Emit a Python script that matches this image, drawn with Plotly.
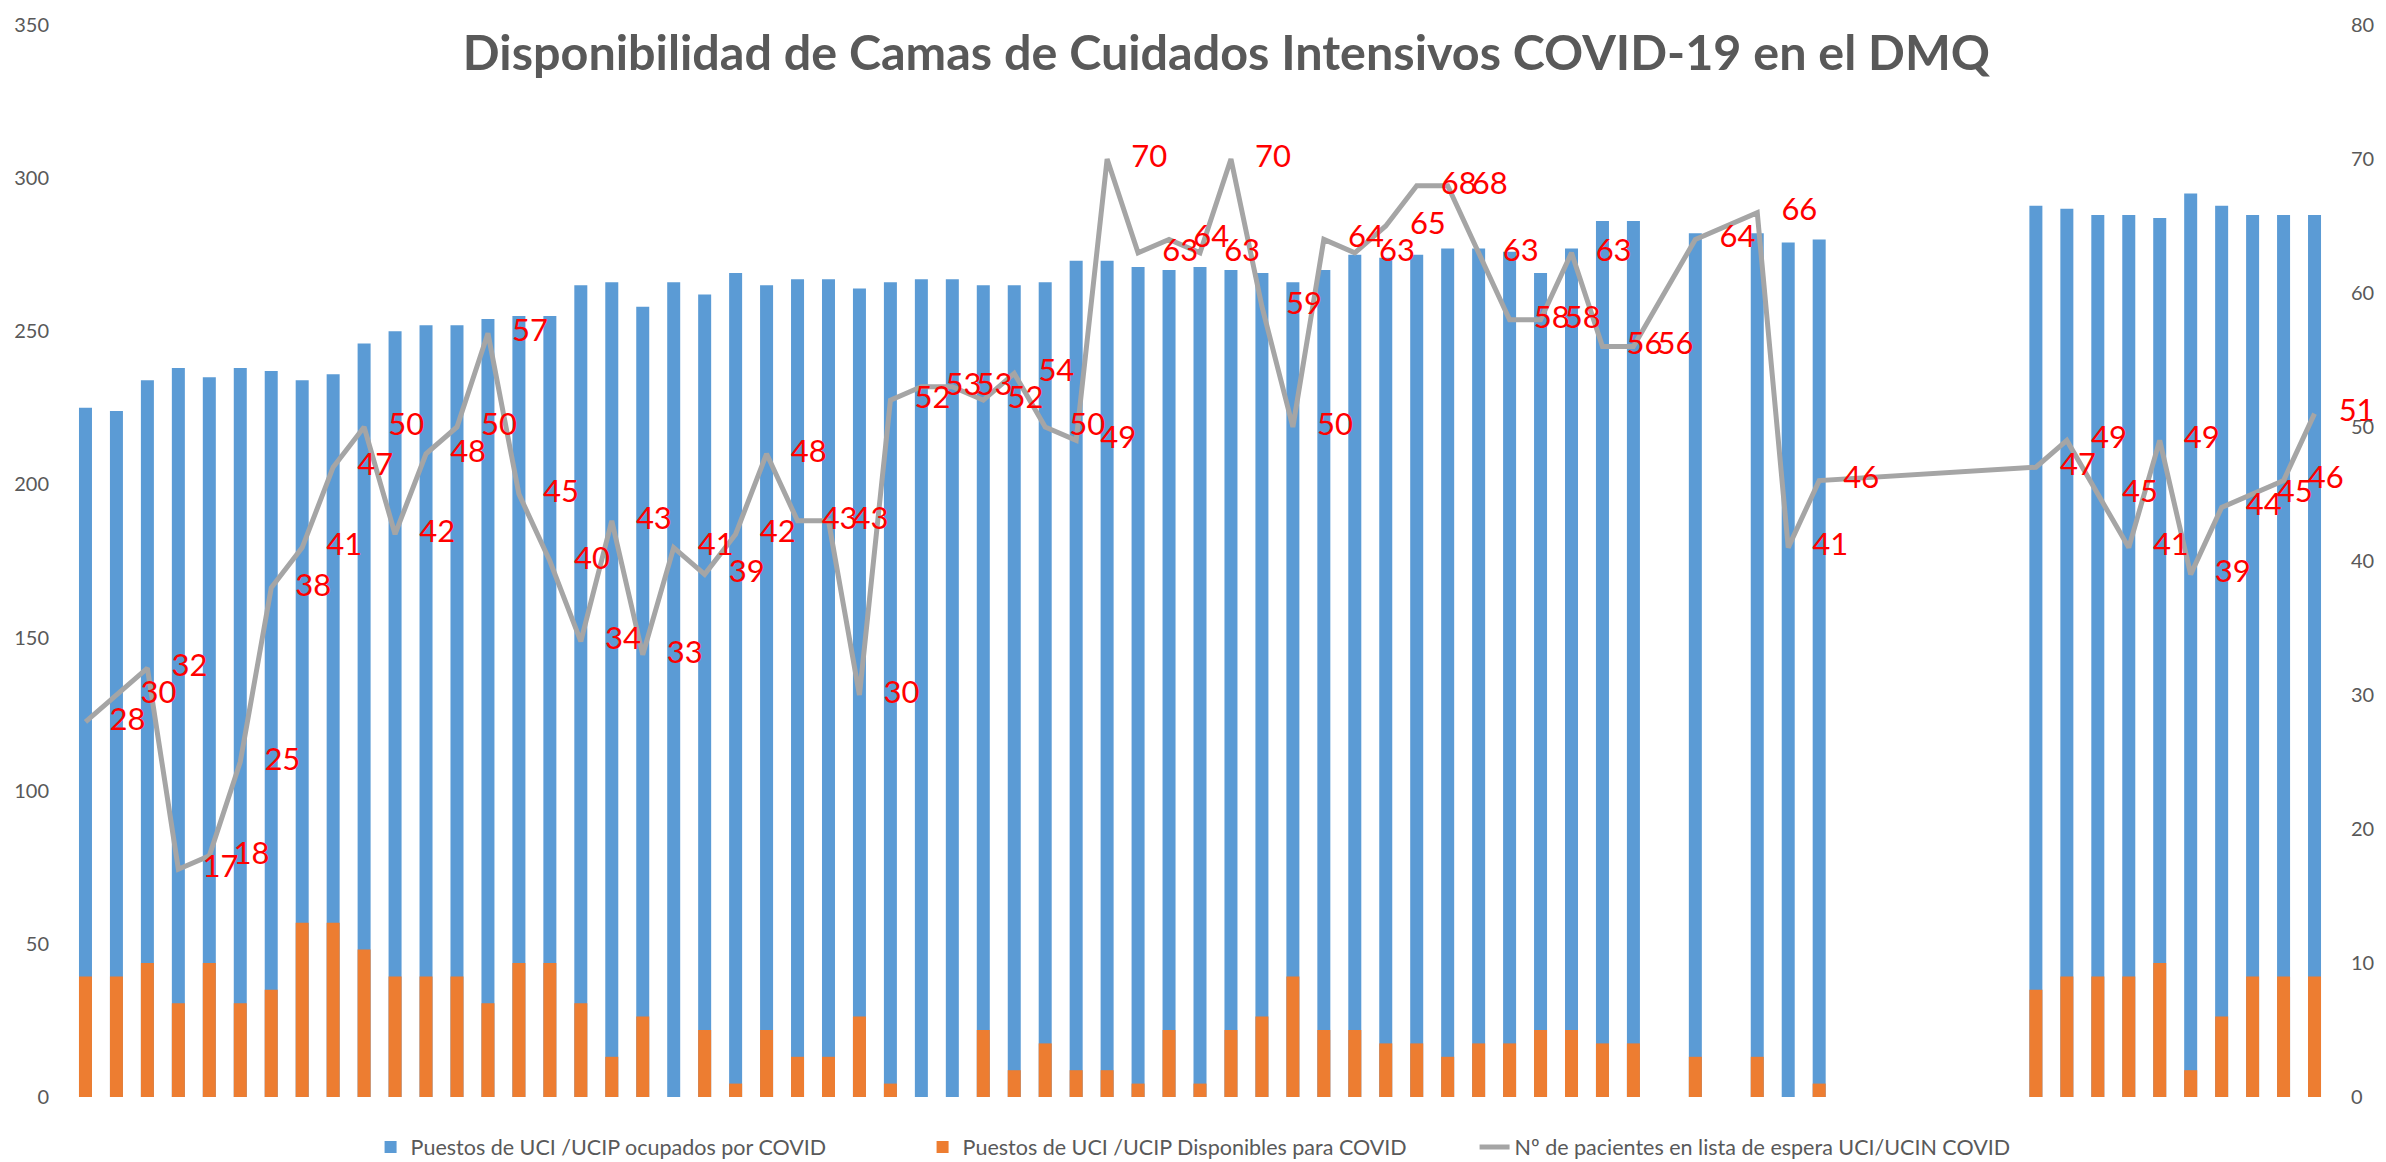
import plotly.graph_objects as go

# Category index (one per reported day; some days have no data)
dias = list(range(1, 74))

# Puestos de UCI /UCIP ocupados por COVID (left axis)
ocupadas = [225, 224, 234, 238, 235, 238, 237, 234, 236, 246,
            250, 252, 252, 254, 255, 255, 265, 266, 258, 266,
            262, 269, 265, 267, 267, 264, 266, 267, 267, 265,
            265, 266, 273, 273, 271, 270, 271, 270, 269, 266,
            270, 275, 274, 275, 277, 277, 276, 269, 277, 286,
            286, None, 282, None, 282, 279, 280, None, None, None,
            None, None, None, 291, 290, 288, 288, 287, 295, 291,
            288, 288, 288]

# Puestos de UCI /UCIP Disponibles para COVID (right axis)
disponibles = [9, 9, 10, 7, 10, 7, 8, 13, 13, 11,
               9, 9, 9, 7, 10, 10, 7, 3, 6, 0,
               5, 1, 5, 3, 3, 6, 1, 0, 0, 5,
               2, 4, 2, 2, 1, 5, 1, 5, 6, 9,
               5, 5, 4, 4, 3, 4, 4, 5, 5, 4,
               4, None, 3, None, 3, 0, 1, None, None, None,
               None, None, None, 8, 9, 9, 9, 10, 2, 6,
               9, 9, 9]

# Nº de pacientes en lista de espera UCI/UCIN COVID (right axis)
espera = [28, 30, 32, 17, 18, 25, 38, 41, 47, 50,
          42, 48, 50, 57, 45, 40, 34, 43, 33, 41,
          39, 42, 48, 43, 43, 30, 52, 53, 53, 52,
          54, 50, 49, 70, 63, 64, 63, 70, 59, 50,
          64, 63, 65, 68, 68, 63, 58, 58, 63, 56,
          56, None, 64, None, 66, 41, 46, None, None, None,
          None, None, None, 47, 49, 45, 41, 49, 39, 44,
          45, 46, 51]

etiquetas = ["" if v is None else str(v) for v in espera]

titulo = "Disponibilidad de Camas de Cuidados Intensivos COVID-19 en el DMQ"
nombres = ["Puestos de UCI /UCIP ocupados por COVID",
           "Puestos de UCI /UCIP Disponibles para COVID",
           "Nº de pacientes en lista de espera UCI/UCIN COVID"]

GRIS_TXT = "#595959"

fig = go.Figure()
fig.add_trace(go.Bar(
    x=dias, y=ocupadas, name=nombres[0], yaxis="y",
    width=0.42, marker=dict(color="#5B9BD5", line=dict(width=0)),
))
fig.add_trace(go.Bar(
    x=dias, y=disponibles, name=nombres[1], yaxis="y2",
    width=0.42, marker=dict(color="#ED7D31", line=dict(width=0)),
))
fig.add_trace(go.Scatter(
    x=dias, y=espera, name=nombres[2], yaxis="y2",
    mode="lines+markers+text", connectgaps=True, cliponaxis=False,
    line=dict(color="#A5A5A5", width=5),
    marker=dict(size=37, color="rgba(0,0,0,0)"),
    text=etiquetas, textposition="middle right",
    textfont=dict(family="Lato", size=31, color="#FF0000"),
))

fig.update_layout(
    width=2386, height=1162,
    margin=dict(l=70, r=49, t=19, b=65),
    paper_bgcolor="white", plot_bgcolor="white",
    barmode="overlay",
    hovermode=False,
    font=dict(family="Lato", color=GRIS_TXT, size=20),
    title=dict(text="<b>" + titulo + "</b>", x=0.514, xanchor="center",
               y=1 - 53 / 1162, yanchor="middle",
               font=dict(family="Lato", size=48.5, color=GRIS_TXT)),
    xaxis=dict(range=[0.5, 73.5], showticklabels=False, showgrid=False,
               zeroline=False, showline=False, ticks=""),
    yaxis=dict(range=[0, 350], dtick=50, showgrid=False, zeroline=False,
               showline=False, ticks="", ticklabelstandoff=20,
               tickfont=dict(size=20, color=GRIS_TXT)),
    yaxis2=dict(range=[0, 80], dtick=10, overlaying="y", side="right",
                showgrid=False, zeroline=False, showline=False, ticks="",
                ticklabelstandoff=20, tickfont=dict(size=20, color=GRIS_TXT)),
    legend=dict(orientation="h", x=0.133, xanchor="left",
                yref="container", y=(1162 - 1147) / 1162, yanchor="middle",
                entrywidth=507, entrywidthmode="pixels",
                font=dict(size=21.5, color=GRIS_TXT), bgcolor="rgba(0,0,0,0)"),
)

fig.write_html("out.html",
               config={"displayModeBar": False},
               post_script="document.body.style.margin='0';document.body.style.overflow='hidden';")
